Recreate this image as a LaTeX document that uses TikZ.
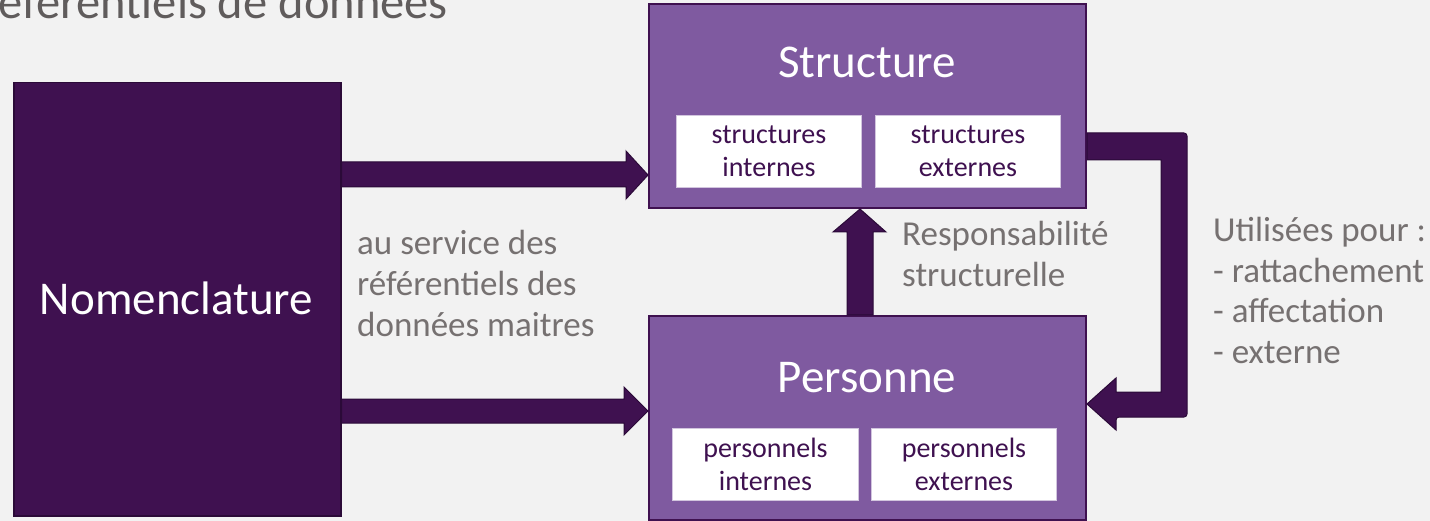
\documentclass[tikz,border=0pt]{standalone}
\usepackage{fontspec}
\setmainfont{Carlito}
\usetikzlibrary{calc}
\definecolor{bg}{HTML}{F2F2F2}
\definecolor{dpurple}{HTML}{3F1150}
\definecolor{dedge}{HTML}{2B0A38}
\definecolor{lpurple}{HTML}{7F5AA0}
\definecolor{gtext}{HTML}{767171}
\definecolor{ttext}{HTML}{605C5C}
\begin{document}
\begin{tikzpicture}[x=1pt,y=-1pt,
  nombox/.style={draw=dedge, fill=dpurple, line width=1.5pt, inner sep=0pt, anchor=north west},
  mainbox/.style={draw=dpurple, fill=lpurple, line width=2pt, inner sep=0pt, anchor=north west},
  subbox/.style={draw=white!65!lpurple, fill=white, line width=1pt, inner sep=0pt, anchor=north west,
    minimum height=72pt, text=dpurple, align=center, font=\fontsize{28}{33}\selectfont},
  blockarrow/.style={fill=dpurple, draw=dedge, line width=1pt, line join=miter},
  graytext/.style={text=gtext, font=\fontsize{35}{41}\selectfont, align=left, inner sep=0pt},
  bigtext/.style={font=\fontsize{47}{56}\selectfont, inner sep=0pt}]
\fill[bg] (0,0) rectangle (1430,521);
\useasboundingbox (0,0) rectangle (1430,521);
\begin{scope}
\clip (0,0) rectangle (1430,521);
\node[text=ttext, font=\fontsize{48.5}{56}\selectfont, inner sep=0pt, anchor=base east] (title) at (448,19) {référentiels de données};
\end{scope}
% Nomenclature
\node[nombox, minimum width=327pt, minimum height=433pt] (nom) at (13,82) {};
\node[bigtext, text=white, anchor=base] (nomlabel) at (176.5,315) {Nomenclature};
% Structure
\node[mainbox, minimum width=437pt, minimum height=204pt] (struct) at (648,3) {};
\node[bigtext, text=white, anchor=base] (structlabel) at (867,78) {Structure};
\node[subbox, minimum width=185pt] (sint) at (676,115) {structures\\internes};
\node[subbox, minimum width=185pt] (sext) at (875,115) {structures\\externes};
% Personne
\node[mainbox, minimum width=437pt, minimum height=204pt] (pers) at (648,315) {};
\node[bigtext, text=white, anchor=base] (perslabel) at (867,392) {Personne};
\node[subbox, minimum width=186pt] (pint) at (672,428) {personnels\\internes};
\node[subbox, minimum width=185pt] (pext) at (871,428) {personnels\\externes};
% arrows
\draw[blockarrow] (nom.east |- 0,162) -- (626,162) -- (626,151) -- (struct.west |- 0,175)
  -- (626,199) -- (626,187) -- (nom.east |- 0,187) -- cycle;
\draw[blockarrow] (nom.east |- 0,399) -- (624,399) -- (624,387) -- (pers.west |- 0,411)
  -- (624,435) -- (624,423) -- (nom.east |- 0,423) -- cycle;
\draw[blockarrow] (847,0 |- pers.north) -- (847,232) -- (833,232) -- (860,0 |- struct.south)
  -- (886,232) -- (873,232) -- (873,0 |- pers.north) -- cycle;
\draw[blockarrow] (struct.east |- 0,160) -- (struct.east |- 0,133) [rounded corners=3pt] -- (1187,133)
  -- (1187,417) -- (1116,417) [sharp corners] -- (1116,430) -- (pers.east |- 0,404) -- (1116,378)
  -- (1116,392) -- (1161,392) -- (1161,160) -- cycle;
% texts (base anchor = baseline of last line)
\node[graytext, anchor=base west] (svc) at (357,337) {au service des\\référentiels des\\données maitres};
\node[graytext, anchor=base west] (resp) at (902,287) {Responsabilité\\structurelle};
\node[graytext, anchor=base west, font=\fontsize{35}{40.5}\selectfont] (util) at (1213,363)
  {Utilisées pour :\\- rattachement\\- affectation\\- externe};
\end{tikzpicture}
\end{document}
